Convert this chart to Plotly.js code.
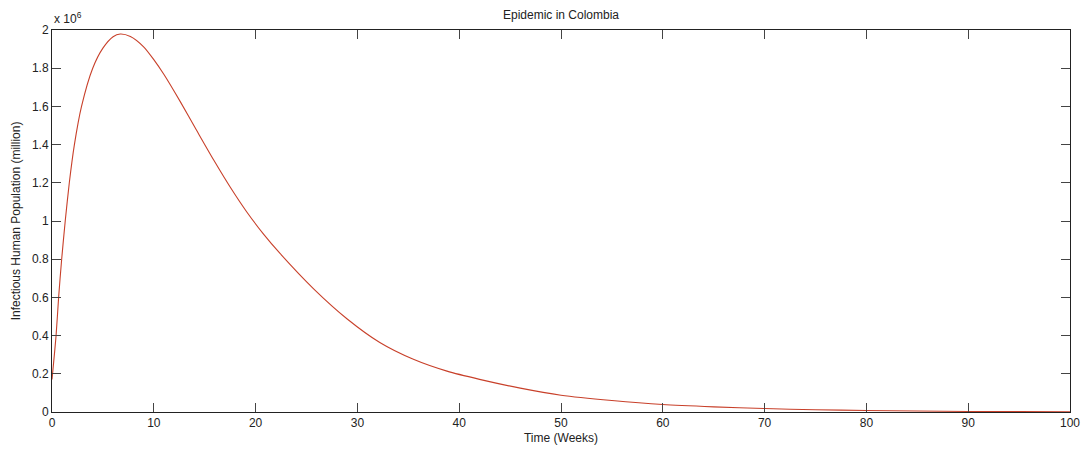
<!DOCTYPE html>
<html>
<head>
<meta charset="utf-8">
<script src="https://cdn.plot.ly/plotly-3.0.1.min.js"></script>
<style>html,body{margin:0;padding:0;background:#fff;}#chart{width:1084px;height:451px;}</style>
</head>
<body>
<div id="chart"></div>
<script>
// Time in weeks
const weeks = [0, 0.4, 0.65, 0.95, 1.3, 1.7, 2.2, 2.9, 4.0, 5.0, 6.0, 6.7, 7.7, 9, 10, 11, 12.6, 14.2, 15.9, 17.5, 19.1, 20.8, 22.4, 25.7, 29, 32.2, 35.5, 38.8, 42, 46, 50, 55, 60, 65, 70, 75, 80, 85, 90, 95, 100];
// Infectious human population (persons)
const infectious = [170000, 400000, 600000, 800000, 1000000, 1200000, 1400000, 1600000, 1800000, 1905000, 1965000, 1979000, 1966000, 1912000, 1845000, 1767000, 1625000, 1475000, 1318000, 1178000, 1050000, 930000, 830000, 645000, 487000, 364000, 276000, 214000, 171000, 125000, 88000, 60000, 39000, 27000, 18000, 12000, 8000, 5000, 3000, 2000, 1000];
const xTicks = [0, 10, 20, 30, 40, 50, 60, 70, 80, 90, 100];
const yTickVals = [0, 200000, 400000, 600000, 800000, 1000000, 1200000, 1400000, 1600000, 1800000, 2000000];
const yTickText = ["0", "0.2", "0.4", "0.6", "0.8", "1", "1.2", "1.4", "1.6", "1.8", "2"];

const font = {family: "Liberation Sans, Arial, sans-serif", size: 12, color: "#222"};

const trace = {
  x: weeks, y: infectious, type: "scatter", mode: "lines",
  line: {color: "#c8402a", width: 1.1, shape: "spline", smoothing: 0.7},
  hoverinfo: "skip"
};

const axisCommon = {
  showgrid: false, zeroline: false, showline: true, linecolor: "#222", linewidth: 1,
  mirror: "ticks", ticks: "inside", ticklen: 9, tickcolor: "#444", tickwidth: 1,
  tickfont: font
};

const layout = {
  width: 1084, height: 451,
  margin: {l: 52, r: 14, t: 30, b: 39},
  paper_bgcolor: "#fff", plot_bgcolor: "#fff",
  showlegend: false,
  font: font,
  title: {text: "Epidemic in Colombia", font: font, x: 0.5, xref: "paper", xanchor: "center", y: 0.967, yref: "container", yanchor: "middle"},
  xaxis: Object.assign({}, axisCommon, {
    range: [0, 100], tickvals: xTicks, ticktext: xTicks.map(String),
    title: {text: "Time (Weeks)", font: font, standoff: 4}
  }),
  yaxis: Object.assign({}, axisCommon, {
    range: [0, 2000000], tickvals: yTickVals, ticktext: yTickText,
    title: {text: "Infectious Human Population (million)", font: font, standoff: 8}
  }),
  annotations: [{
    text: "x 10<sup>6</sup>", xref: "paper", yref: "paper", x: 0, y: 1,
    xanchor: "left", yanchor: "bottom", showarrow: false, font: font, yshift: 2
  }]
};

Plotly.newPlot("chart", [trace], layout, {displayModeBar: false, staticPlot: true});
</script>
</body>
</html>
